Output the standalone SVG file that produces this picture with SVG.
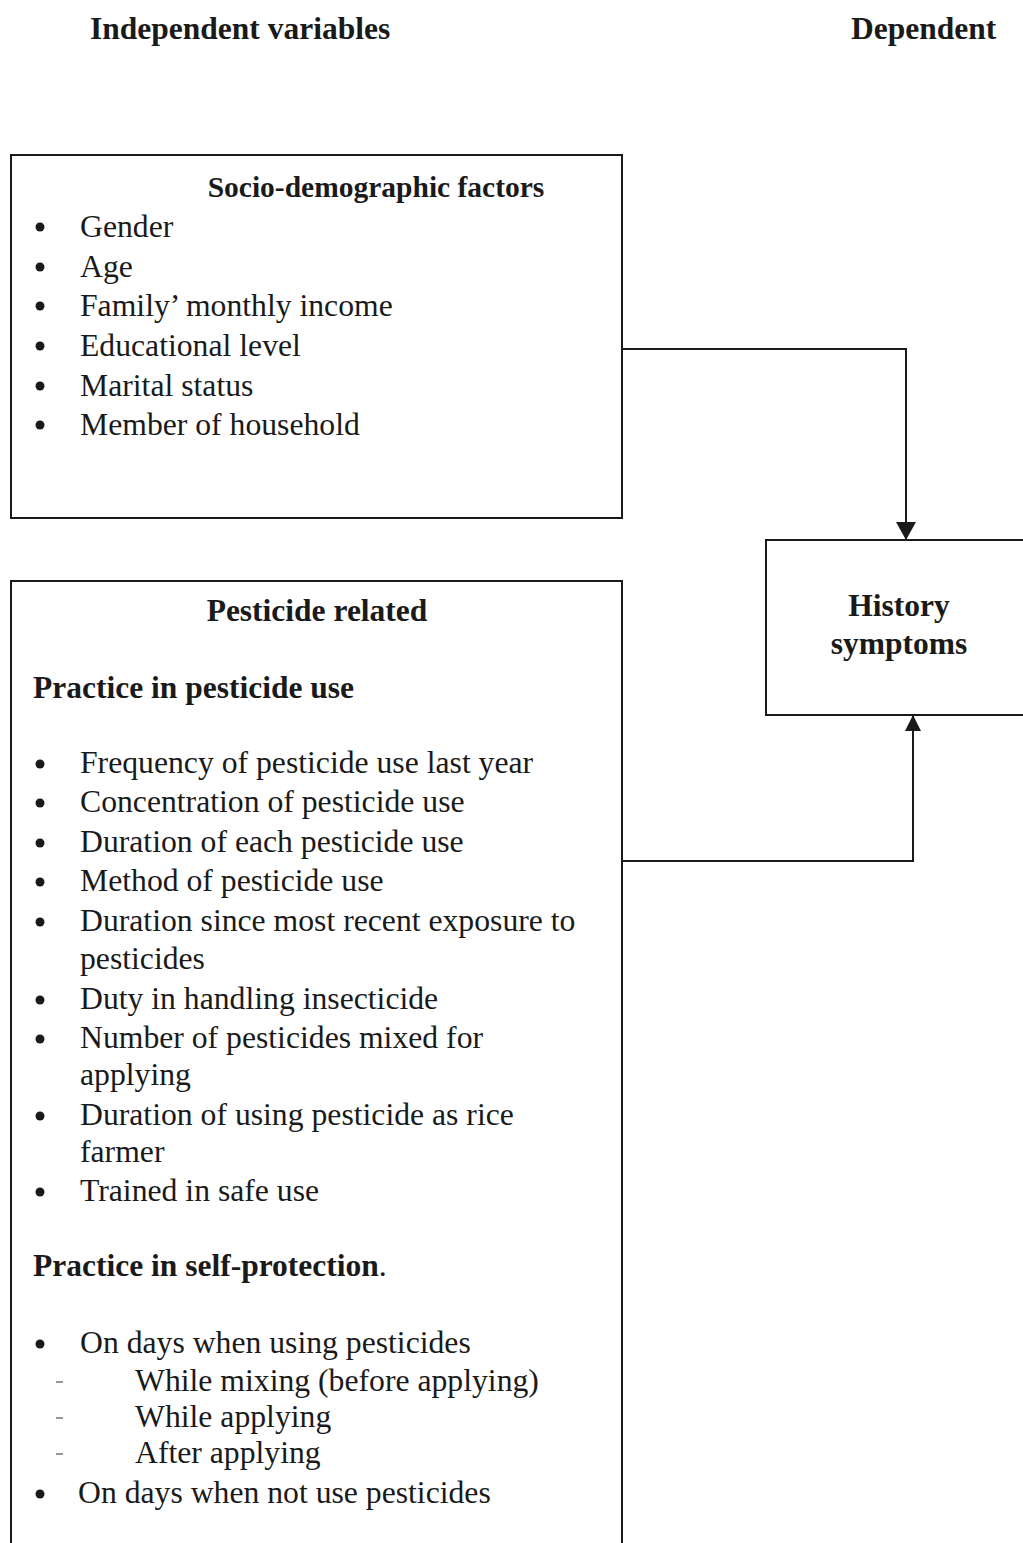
<svg xmlns="http://www.w3.org/2000/svg" width="1023" height="1543" viewBox="0 0 1023 1543">
<style>
text{font-family:"Liberation Serif","Times New Roman",serif;font-size:31.7px;fill:#1a1a1a}
.b{font-weight:bold;font-size:31.5px}
.box{fill:none;stroke:#1a1a1a;stroke-width:2}
.ln{fill:none;stroke:#1a1a1a;stroke-width:2}
.dot{fill:#1a1a1a}
.dash{fill:#999}
</style>
<defs>
<marker id="ah" viewBox="0 0 18 20" refX="18" refY="10" markerWidth="18" markerHeight="20" markerUnits="userSpaceOnUse" orient="auto">
<path d="M0,0 L18,10 L0,20 z" fill="#1a1a1a"/>
</marker>
<marker id="ah2" viewBox="0 0 16 16" refX="16" refY="8" markerWidth="16" markerHeight="16" markerUnits="userSpaceOnUse" orient="auto">
<path d="M0,0 L16,8 L0,16 z" fill="#1a1a1a"/>
</marker>
</defs>
<rect width="1023" height="1543" fill="#fff"/>
<text class="b" x="90" y="39">Independent variables</text>
<text class="b" x="851" y="39">Dependent</text>
<g id="socio">
<rect class="box" x="11" y="155" width="611" height="363"/>
<text class="b" x="376" y="197" text-anchor="middle" style="font-size:29.5px">Socio-demographic factors</text>
<circle class="dot" cx="40" cy="227" r="4.5"/><text x="80" y="237">Gender</text>
<circle class="dot" cx="40" cy="267" r="4.5"/><text x="80" y="277">Age</text>
<circle class="dot" cx="40" cy="306" r="4.5"/><text x="80" y="316">Family’ monthly income</text>
<circle class="dot" cx="40" cy="346" r="4.5"/><text x="80" y="356">Educational level</text>
<circle class="dot" cx="40" cy="386" r="4.5"/><text x="80" y="396">Marital status</text>
<circle class="dot" cx="40" cy="425" r="4.5"/><text x="80" y="435">Member of household</text>
</g>
<g id="history">
<rect class="box" x="766" y="540" width="270" height="175"/>
<text class="b" x="899" y="616" text-anchor="middle">History</text>
<text class="b" x="899" y="654" text-anchor="middle">symptoms</text>
</g>
<g id="pesticide">
<path class="box" d="M11,1545 V581 H622 V1545"/>
<text class="b" x="317" y="621" text-anchor="middle">Pesticide related</text>
<text class="b" x="33" y="698">Practice in pesticide use</text>
<circle class="dot" cx="40" cy="764" r="4.5"/><text x="80" y="773">Frequency of pesticide use last year</text>
<circle class="dot" cx="40" cy="803" r="4.5"/><text x="80" y="812">Concentration of pesticide use</text>
<circle class="dot" cx="40" cy="843" r="4.5"/><text x="80" y="852">Duration of each pesticide use</text>
<circle class="dot" cx="40" cy="882" r="4.5"/><text x="80" y="891">Method of pesticide use</text>
<circle class="dot" cx="40" cy="922" r="4.5"/><text x="80" y="931">Duration since most recent exposure to</text>
<text x="80" y="969">pesticides</text>
<circle class="dot" cx="40" cy="1000" r="4.5"/><text x="80" y="1009">Duty in handling insecticide</text>
<circle class="dot" cx="40" cy="1039" r="4.5"/><text x="80" y="1048">Number of pesticides mixed for</text>
<text x="80" y="1085">applying</text>
<circle class="dot" cx="40" cy="1116" r="4.5"/><text x="80" y="1125">Duration of using pesticide as rice</text>
<text x="80" y="1162">farmer</text>
<circle class="dot" cx="40" cy="1192" r="4.5"/><text x="80" y="1201">Trained in safe use</text>
<text x="33" y="1276"><tspan class="b">Practice in self-protection</tspan>.</text>
<circle class="dot" cx="40" cy="1344" r="4.5"/><text x="80" y="1353">On days when using pesticides</text>
<rect class="dash" x="56" y="1381" width="7" height="2"/><text x="135" y="1391">While mixing (before applying)</text>
<rect class="dash" x="56" y="1417" width="7" height="2"/><text x="135" y="1427">While applying</text>
<rect class="dash" x="56" y="1453" width="7" height="2"/><text x="135" y="1463">After applying</text>
<circle class="dot" cx="40" cy="1494" r="4.5"/><text x="78" y="1503">On days when not use pesticides</text>
</g>
<g id="connectors">
<path class="ln" d="M622,349 H906 V540" marker-end="url(#ah)"/>
<path class="ln" d="M622,861 H913 V715" marker-end="url(#ah2)"/>
</g>
</svg>
